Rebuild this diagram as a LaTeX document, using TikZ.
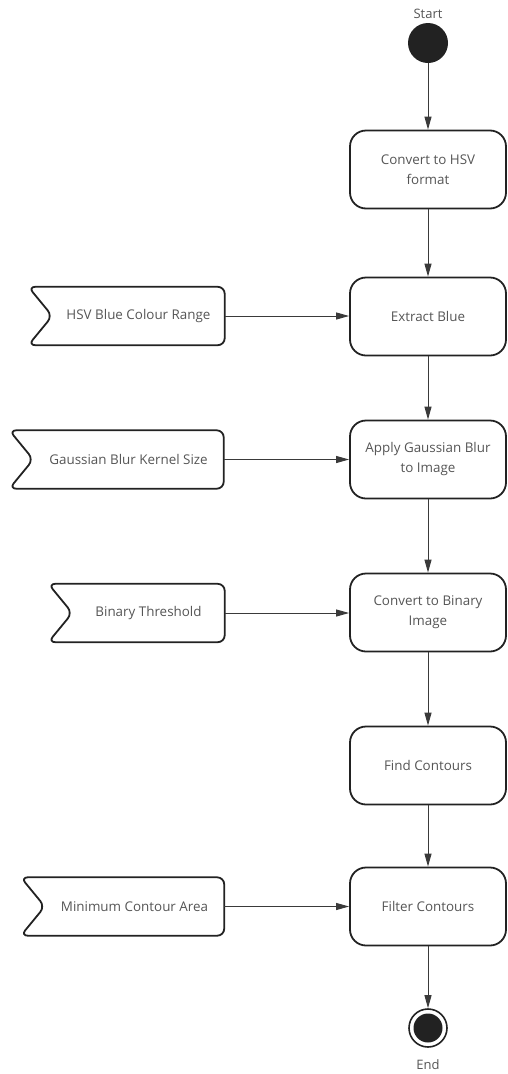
\documentclass[tikz,border=0pt]{standalone}
\usepackage{fontspec}
\setmainfont{Open Sans}
\usetikzlibrary{arrows.meta,calc}
\definecolor{txt}{HTML}{555555}
\definecolor{edge}{HTML}{222222}
\definecolor{wire}{HTML}{3a3a3a}

\begin{document}
\begin{tikzpicture}[x=1pt,y=-1pt,
  stepbox/.style={draw=edge, line width=1.8pt, rounded corners=16pt,
    minimum width=156pt, minimum height=78pt, align=center,
    font=\fontsize{13.4}{20}\selectfont, text=txt, inner sep=0pt},
  inbox/.style={minimum height=58pt, inner sep=0pt,
    font=\fontsize{13.4}{20}\selectfont, text=txt},
  inedge/.style={draw=edge, line width=1.8pt, rounded corners=7pt},
  flow/.style={draw=wire, line width=1pt, -{Triangle[length=13pt,width=7pt]}},
  lbl/.style={font=\fontsize{13}{15}\selectfont, text=txt, inner sep=0pt}
]
\useasboundingbox (0,0) rectangle (507,1074);

% initial and final states
\node[circle, fill=edge, minimum size=40pt, inner sep=0pt] (start) at (428,43) {};
\node[lbl] (startlbl) at (428,14) {Start};
\node[circle, draw=edge, line width=1.6pt, minimum size=38pt, inner sep=0pt] (end) at (428,1028) {};
\node[circle, fill=edge, minimum size=29pt, inner sep=0pt] (endcore) at (end) {};
\node[lbl] (endlbl) at (428,1065) {End};

% processing steps
\node[stepbox] (s1) at (428,169.5) {Convert to HSV\\format};
\node[stepbox] (s2) at (428,316.5) {Extract Blue};
\node[stepbox] (s3) at (428,459.5) {Apply Gaussian Blur\\to Image};
\node[stepbox] (s4) at (428,612.5) {Convert to Binary\\Image};
\node[stepbox] (s5) at (428,765.5) {Find Contours};
\node[stepbox] (s6) at (428,906.5) {Filter Contours};

% parameter inputs (text area right of the notch)
\node[inbox, minimum width=172pt] (p1) at (138.5,316) {HSV Blue Colour Range};
\node[inbox, minimum width=190pt] (p2) at (128.5,459.5) {Gaussian Blur Kernel Size};
\node[inbox, minimum width=152pt] (p3) at (148.5,613) {Binary Threshold};
\node[inbox, minimum width=179pt] (p4) at (134.5,906.5) {Minimum Contour Area};

% notched outlines of the inputs
\foreach \p in {p1,p2,p3,p4}{
  \draw[inedge] ($(\p.north west)+(-24,0)$) -- (\p.north east) -- (\p.south east)
    -- ($(\p.south west)+(-24,0)$) -- (\p.west) -- cycle;
}

% control flow
\draw[flow] (start) -- (s1);
\draw[flow] (s1) -- (s2);
\draw[flow] (s2) -- (s3);
\draw[flow] (s3) -- (s4);
\draw[flow] (s4) -- (s5);
\draw[flow] (s5) -- (s6);
\draw[flow] (s6) -- (end);

% inputs feeding the steps
\draw[flow] (p1.east) -- (p1.east -| s2.west);
\draw[flow] (p2.east) -- (p2.east -| s3.west);
\draw[flow] (p3.east) -- (p3.east -| s4.west);
\draw[flow] (p4.east) -- (p4.east -| s6.west);
\end{tikzpicture}
\end{document}
